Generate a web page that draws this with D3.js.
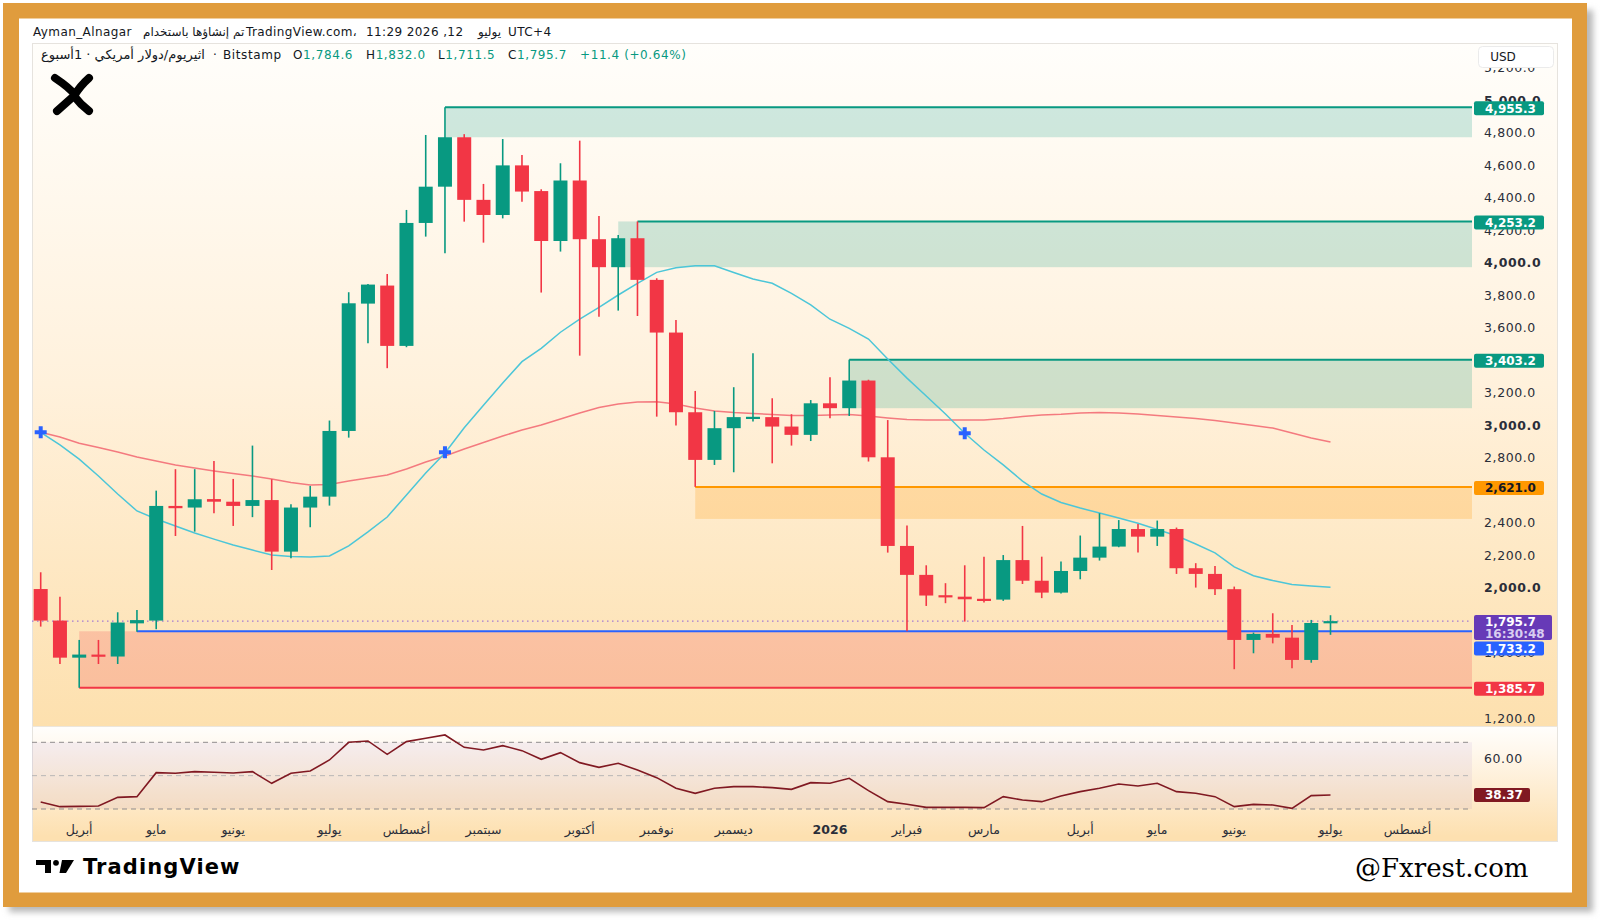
<!DOCTYPE html>
<html><head><meta charset="utf-8">
<script src="https://cdn.jsdelivr.net/npm/d3@7"></script>
<style>body{margin:0;background:#fff;}svg{display:block}</style>
</head><body>
<svg id="c" width="1600" height="921"></svg>
<script>
// ---------- DATA ----------
const weeks = ["2025-03-24","2025-03-31","2025-04-07","2025-04-14","2025-04-21","2025-04-28","2025-05-05","2025-05-12","2025-05-19","2025-05-26",
"2025-06-02","2025-06-09","2025-06-16","2025-06-23","2025-06-30","2025-07-07","2025-07-14","2025-07-21","2025-07-28","2025-08-04",
"2025-08-11","2025-08-18","2025-08-25","2025-09-01","2025-09-08","2025-09-15","2025-09-22","2025-09-29","2025-10-06","2025-10-13",
"2025-10-20","2025-10-27","2025-11-03","2025-11-10","2025-11-17","2025-11-24","2025-12-01","2025-12-08","2025-12-15","2025-12-22",
"2025-12-29","2026-01-05","2026-01-12","2026-01-19","2026-01-26","2026-02-02","2026-02-09","2026-02-16","2026-02-23","2026-03-02",
"2026-03-09","2026-03-16","2026-03-23","2026-03-30","2026-04-06","2026-04-13","2026-04-20","2026-04-27","2026-05-04","2026-05-11",
"2026-05-18","2026-05-25","2026-06-01","2026-06-08","2026-06-15","2026-06-22","2026-06-29","2026-07-06"];
const open = [1993,1799,1571,1590,1578,1782,1799,2504,2494,2546,
2530,2504,2540,2223,2494,2561,2965,3748,3859,3488,
4244,4467,4771,4386,4293,4598,4440,4133,4505,4144,
3972,4150,3894,3570,3080,2787,2982,3045,3050,2992,
2941,3135,3105,3275,2803,2258,2080,1955,1946,1933,
1928,2171,2044,1971,2104,2186,2254,2362,2315,2362,
2121,2086,1992,1680,1717,1694,1557,1784.6];
const high = [2096,1946,1680,1680,1850,1864,2598,2730,2730,2780,
2670,2875,2668,2514,2627,3029,3818,3869,3930,4324,
4785,4955.3,4790,4484,4760,4662,4451,4611,4750,4287,
4170,4253.2,3904,3647,3211,3088,3234,3443,3166,3068,
3155,3295,3403.2,3280,3032,2383,2139,2029,2139,2192,
2202,2381,2192,2162,2322,2459,2417,2393,2414,2371,
2152,2135,2008,1725,1844,1772,1803,1832.0];
const low = [1762,1532,1385.7,1532,1532,1731,1746,2319,2346,2459,
2381,2435,2110,2182,2373,2506,2924,3504,3351,3480,
4160,4057,4252,4123,4272,4375,3816,4068,3428,3668,
3705,3672,3053,2998,2621,2756,2711,3023,2766,2875,
2903,3043,3057,2777,2217,1733.2,1889,1906,1793,1910,
1920,2024,1937,1965,2053,2168,2250,2217,2258,2086,
2002,1957,1500,1598,1659,1506,1540,1711.5];
const close = [1799,1571,1590,1578,1787,1802,2504,2490,2545,2530,
2504,2540,2223,2494,2561,2965,3750,3865,3488,4244,
4467,4771,4386,4293,4598,4437,4133,4505,4144,3972,
4150,3894,3570,3080,2787,2982,3050,3052,2992,2941,
3135,3105,3275,2803,2258,2080,1953,1946,1930,1928,
2171,2044,1971,2104,2186,2254,2362,2315,2362,2121,
2086,1992,1680,1717,1694,1557,1784.3,1795.7];
const maFast = [2957,2879,2792,2688,2577,2473,2424,2381,2338,2300,
2264,2233,2202,2193,2190,2196,2258,2344,2436,2571,
2706,2829,2985,3123,3260,3391,3473,3572,3652,3725,
3801,3873,3940,3969,3981,3981,3939,3899,3873,3811,
3740,3652,3596,3530,3407,3290,3180,3069,2951,2848,
2756,2657,2577,2525,2491,2460,2430,2398,2359,2321,
2270,2215,2129,2075,2045,2021,2012,2004];
const maSlow = [2957,2928,2890,2863,2836,2805,2780,2756,2737,2719,
2703,2688,2669,2648,2633,2636,2657,2676,2694,2731,
2774,2811,2854,2894,2934,2971,3002,3039,3075,3109,
3131,3143,3145,3131,3106,3088,3078,3072,3066,3060,
3060,3063,3066,3057,3045,3035,3032,3032,3032,3032,
3041,3054,3063,3067,3075,3078,3075,3069,3060,3051,
3042,3029,3014,2998,2983,2952,2922,2897];
const rsi = [34.2,31.4,31.6,31.8,37.0,37.4,51.8,51.4,52.4,52.0,
51.6,52.4,45.4,51.4,52.8,59.4,70.0,70.8,62.8,70.4,
72.4,74.4,67.0,65.4,68.0,65.0,59.8,63.8,57.8,55.0,
57.4,53.4,48.8,42.4,39.4,42.4,43.4,43.4,42.8,41.8,
45.8,45.4,48.4,41.0,34.4,32.8,31.0,31.0,31.0,30.8,
37.4,35.4,34.4,37.8,40.4,42.4,45.0,43.8,45.4,40.4,
39.4,37.4,31.4,32.8,32.4,30.4,38.0,38.37];
const crossIdx = [0, 21, 48];
const crossVal = [2957, 2834, 2951];
// tick labels visible on the price scale (those fully hidden behind price badges are left out)
const priceTicks = [5200,5000,4800,4600,4400,4200,4000,3800,3600,3200,3000,2800,2400,2200,2000,1600,1200];
const rsiLevels = [70, 50, 30];
const rsiTicks = [60];
const monthDates = ["2025-04-07","2025-05-05","2025-06-02","2025-07-07","2025-08-04","2025-09-01","2025-10-06","2025-11-03","2025-12-01","2026-01-05","2026-02-02","2026-03-02","2026-04-06","2026-05-04","2026-06-01","2026-07-06","2026-08-03"];
const monthLabels = ["أبريل","مايو","يونيو","يوليو","أغسطس","سبتمبر","أكتوبر","نوفمبر","ديسمبر","2026","فبراير","مارس","أبريل","مايو","يونيو","يوليو","أغسطس"];
// zones
const zoneFillStart = [21, 30, 42, 34, 2];
const zoneLineStart = [21, 31, 42, 34, 2];
const zoneTop = [4955.3, 4253.2, 3403.2, 2621.0, 1733.2];
const zoneBottom = [4771, 3972, 3105, 2424, 1385.7];
const zoneKind = ["supply","supply","supply","mid","demand"];
const blueLineStart = 5;
const lastPrice = 1795.7, lastCountdown = "16:30:48", rsiLast = 38.37;

// ---------- SETUP ----------
const svg = d3.select("#c");
const defs = svg.append("defs");
const FONT = "DejaVu Sans, Verdana, sans-serif";
const L = 32, PR = 1472, R = 1558, PT = 43, PB = 726, RT = 726, RB = 814, B = 842;
const parse = d3.utcParse("%Y-%m-%d");
const dates = weeks.map(parse);
const x = d3.scaleUtc().domain([dates[0], dates[dates.length-1]]).range([40.7, 1330.5]);
const y = d3.scaleLinear().domain([1200, 5000]).range([718, 100]);
const yr = d3.scaleLinear().domain([30, 70]).range([809, 742.3]);
const UP = "#089981", DN = "#f23645";

function vgrad(id, y1, y2, stops){
  const g = defs.append("linearGradient").attr("id", id).attr("gradientUnits","userSpaceOnUse")
    .attr("x1",0).attr("x2",0).attr("y1",y1).attr("y2",y2);
  stops.forEach(s => g.append("stop").attr("offset", s[0]).attr("stop-color", s[1]));
}
vgrad("gPrice", PT, PB, [[0,"#fffefb"],[0.5,"#fff1dc"],[1,"#fde0ae"]]);
vgrad("gRsi", RT, B, [[0,"#fffefc"],[0.2,"#fff8ee"],[0.95,"#fde0b0"],[1,"#fde0b0"]]);
defs.append("filter").attr("id","blur").append("feGaussianBlur").attr("stdDeviation",3);
defs.append("clipPath").attr("id","cp").append("rect").attr("x",L).attr("y",PT).attr("width",PR-L).attr("height",PB-PT);
defs.append("clipPath").attr("id","cr").append("rect").attr("x",L).attr("y",RT).attr("width",PR-L).attr("height",RB-RT);

// frame
svg.append("rect").attr("x",9).attr("y",10).attr("width",1584).attr("height",902).attr("fill","#b8b8b8").attr("filter","url(#blur)");
svg.append("rect").attr("x",3).attr("y",3).attr("width",1584).attr("height",904).attr("fill","#e09c3d");
svg.append("rect").attr("x",19).attr("y",18.5).attr("width",1553).attr("height",874).attr("fill","#ffffff");

// backgrounds
svg.append("rect").attr("x",L).attr("y",PT).attr("width",R-L).attr("height",PB-PT).attr("fill","url(#gPrice)");
svg.append("rect").attr("x",L).attr("y",RT).attr("width",R-L).attr("height",B-RT).attr("fill","url(#gRsi)");
svg.append("rect").attr("x",L+0.5).attr("y",PT+0.5).attr("width",R-L-1).attr("height",B-PT-1).attr("fill","none").attr("stroke","#e6e3de");
svg.append("line").attr("x1",L).attr("x2",R).attr("y1",PB+0.5).attr("y2",PB+0.5).attr("stroke","#ece6dc");

// ---------- PRICE PANE ----------
const pane = svg.append("g").attr("clip-path","url(#cp)");
const zoneFill = {supply:"rgba(8,153,129,0.2)", mid:"rgba(255,152,0,0.22)", demand:"rgba(242,54,69,0.2)"};
const zoneLine = {supply:UP, mid:"#ff9800", demand:"#f23645"};
zoneTop.forEach((t,i) => {
  const k = zoneKind[i];
  const x0 = x(dates[zoneFillStart[i]]);
  pane.append("rect").attr("x", x0).attr("y", y(t)).attr("width", PR - x0).attr("height", y(zoneBottom[i]) - y(t)).attr("fill", zoneFill[k]);
  const xl = x(dates[zoneLineStart[i]]);
  if (k === "demand") {
    pane.append("line").attr("x1", xl).attr("x2", PR).attr("y1", y(zoneBottom[i])).attr("y2", y(zoneBottom[i])).attr("stroke", zoneLine[k]).attr("stroke-width", 2);
    const xb = x(dates[blueLineStart]);
    pane.append("line").attr("x1", xb).attr("x2", PR).attr("y1", y(t)).attr("y2", y(t)).attr("stroke", "#2962ff").attr("stroke-width", 2);
  } else {
    pane.append("line").attr("x1", xl).attr("x2", PR).attr("y1", y(t)).attr("y2", y(t)).attr("stroke", zoneLine[k]).attr("stroke-width", 2);
  }
});

const lineGen = arr => d3.line().x((d,i) => x(dates[i])).y(d => y(d))(arr);
pane.append("path").attr("d", lineGen(maSlow)).attr("fill","none").attr("stroke","#f47a7f").attr("stroke-width",1.5);
pane.append("path").attr("d", lineGen(maFast)).attr("fill","none").attr("stroke","#4cc6d8").attr("stroke-width",1.5);

pane.append("line").attr("x1",L).attr("x2",PR).attr("y1",y(lastPrice)).attr("y2",y(lastPrice))
  .attr("stroke","#8e5fd8").attr("stroke-width",1).attr("stroke-dasharray","1.5,3.5");

const cg = pane.append("g");
dates.forEach((d,i) => {
  const cx = x(d), col = close[i] >= open[i] ? UP : DN;
  cg.append("line").attr("x1",cx).attr("x2",cx).attr("y1",y(high[i])).attr("y2",y(low[i])).attr("stroke",col).attr("stroke-width",1.6);
  const yt = y(Math.max(open[i],close[i])), yb = y(Math.min(open[i],close[i]));
  cg.append("rect").attr("x",cx-7).attr("y",yt).attr("width",14).attr("height",Math.max(2.2,yb-yt)).attr("fill",col);
});

crossIdx.forEach((ci,j) => {
  const cx = x(dates[ci]), cy = y(crossVal[j]);
  pane.append("path").attr("d",`M${cx-6},${cy}H${cx+6}M${cx},${cy-6}V${cy+6}`).attr("stroke","#2962ff").attr("stroke-width",4);
});

// price axis labels
const ax = svg.append("g").attr("font-family",FONT).attr("font-size",12.5).attr("fill","#2a2e39");
priceTicks.forEach(p => {
  ax.append("text").attr("x",1484).attr("y",y(p)+4.5).attr("letter-spacing",0.6)
    .attr("font-weight", p % 1000 === 0 ? "bold" : "normal").text(d3.format(",.1f")(p));
});
svg.append("rect").attr("x",1478.5).attr("y",46.5).attr("width",75).attr("height",21).attr("rx",4).attr("fill","#fff").attr("stroke","#ebebeb");
svg.append("text").attr("x",1503).attr("y",61).attr("font-family",FONT).attr("font-size",12).attr("fill","#131722").attr("text-anchor","middle").text("USD");

function badge(cy, txt, bg, fg, w, h){
  h = h || 14;
  svg.append("rect").attr("x",1474).attr("y",cy-h/2).attr("width",w||70).attr("height",h).attr("rx",2).attr("fill",bg);
  svg.append("text").attr("x",1485).attr("y",cy+4.3).attr("font-family",FONT).attr("font-size",12).attr("font-weight","bold").attr("fill",fg).text(txt);
}
const f1 = d3.format(",.1f");
zoneTop.forEach((t,i) => {
  if (zoneKind[i] === "supply") badge(y(t)+1, f1(t), UP, "#fff");
  if (zoneKind[i] === "mid") badge(y(t)+1, f1(t), "#ff9800", "#131722");
});
svg.append("rect").attr("x",1474).attr("y",615).attr("width",78).attr("height",25).attr("rx",2).attr("fill","#673ab7");
svg.append("text").attr("x",1485).attr("y",626).attr("font-family",FONT).attr("font-size",12).attr("font-weight","bold").attr("fill","#fff").text(f1(lastPrice));
svg.append("text").attr("x",1485).attr("y",638).attr("font-family",FONT).attr("font-size",12).attr("font-weight","bold").attr("fill","#d9cdf0").text(lastCountdown);
badge(648.5, f1(zoneTop[4]), "#2962ff", "#fff");
badge(y(zoneBottom[4])+1, f1(zoneBottom[4]), "#f23645", "#fff");

// ---------- RSI PANE ----------
const rp = svg.append("g").attr("clip-path","url(#cr)");
rp.append("rect").attr("x",L).attr("y",yr(70)).attr("width",PR-L).attr("height",yr(30)-yr(70)).attr("fill","rgba(126,87,194,0.08)");
rsiLevels.forEach(v => {
  rp.append("line").attr("x1",L).attr("x2",PR).attr("y1",yr(v)).attr("y2",yr(v))
    .attr("stroke", v === 50 ? "#b9b6b6" : "#8f8c8c").attr("stroke-width",1).attr("stroke-dasharray","5,4");
});
rp.append("path").attr("d", d3.line().x((d,i)=>x(dates[i])).y(d=>yr(d))(rsi)).attr("fill","none").attr("stroke","#801922").attr("stroke-width",1.6);
rsiTicks.forEach(v => svg.append("text").attr("x",1484).attr("y",yr(v)+4.5).attr("font-family",FONT).attr("font-size",12.5).attr("letter-spacing",0.6).attr("fill","#2a2e39").text(d3.format(".2f")(v)));
svg.append("rect").attr("x",1474).attr("y",yr(rsiLast)-7).attr("width",56).attr("height",14).attr("rx",2).attr("fill","#801922");
svg.append("text").attr("x",1485).attr("y",yr(rsiLast)+4.3).attr("font-family",FONT).attr("font-size",12).attr("font-weight","bold").attr("fill","#fff").text(d3.format(".2f")(rsiLast));

// ---------- TIME AXIS ----------
const tg = svg.append("g").attr("font-family",FONT).attr("font-size",12.5).attr("fill","#2a2e39").attr("text-anchor","middle");
monthDates.forEach((d,i) => {
  tg.append("text").attr("x", x(parse(d))).attr("y", 833.5)
    .attr("font-weight", /^\d+$/.test(monthLabels[i]) ? "bold" : "normal").text(monthLabels[i]);
});

// ---------- HEADER ----------
const hd = svg.append("g").attr("font-family",FONT).attr("font-size",12).attr("fill","#131722");
[[33,"Ayman_Alnagar"],[143,"تم إنشاؤها باستخدام"],[246,"TradingView.com،"],[366,"11:29 2026 ,12"],[478,"يوليو"],[508,"UTC+4"]]
  .forEach(c => hd.append("text").attr("x",c[0]).attr("y",36).attr("letter-spacing",0.4).text(c[1]));
const h2 = svg.append("g").attr("font-family",FONT).attr("font-size",12).attr("fill","#131722");
h2.append("text").attr("x",41).attr("y",59).attr("font-size",13).text("اثيريوم/دولار أمريكي · 1أسبوع");
h2.append("text").attr("x",213).attr("y",59).text("·");
h2.append("text").attr("x",223).attr("y",59).attr("letter-spacing",0.6).text("Bitstamp");
[[293,"O",open[67]],[366,"H",high[67]],[438,"L",low[67]],[508,"C",close[67]]].forEach(c => {
  const t = h2.append("text").attr("x",c[0]).attr("y",59).attr("letter-spacing",0.6);
  t.append("tspan").text(c[1]);
  t.append("tspan").attr("fill",UP).text(f1(c[2]));
});
const chg = close[67] - close[66];
h2.append("text").attr("x",580).attr("y",59).attr("letter-spacing",0.6).attr("fill",UP)
  .text("+" + f1(chg) + " (+" + d3.format(".2f")(chg/close[66]*100) + "%)");

// logo X
svg.append("path").attr("d","M55,78 Q70,88 75,95 Q66,103 57,111").attr("fill","none").attr("stroke","#000").attr("stroke-width",8).attr("stroke-linecap","round").attr("stroke-linejoin","round");
svg.append("path").attr("d","M89,78 Q80,86 74,96 Q80,104 89,111").attr("fill","none").attr("stroke","#000").attr("stroke-width",8).attr("stroke-linecap","round").attr("stroke-linejoin","round");

// TradingView logo
const tv = svg.append("g").attr("fill","#000");
tv.append("path").attr("d","M36,860 H51 V873 H45 V865 H36 Z");
tv.append("circle").attr("cx",56).attr("cy",862.8).attr("r",2.9);
tv.append("path").attr("d","M62,860 H74 L66,873 H59.5 Z");
svg.append("text").attr("x",83).attr("y",874).attr("font-family",FONT).attr("font-size",21).attr("font-weight","bold").attr("letter-spacing",1.1).attr("fill","#000").text("TradingView");

// watermark
svg.append("text").attr("x",1355).attr("y",877).attr("font-family","DejaVu Serif, Liberation Serif, serif").attr("font-size",26).attr("fill","#000").text("@Fxrest.com");
</script>
</body></html>
